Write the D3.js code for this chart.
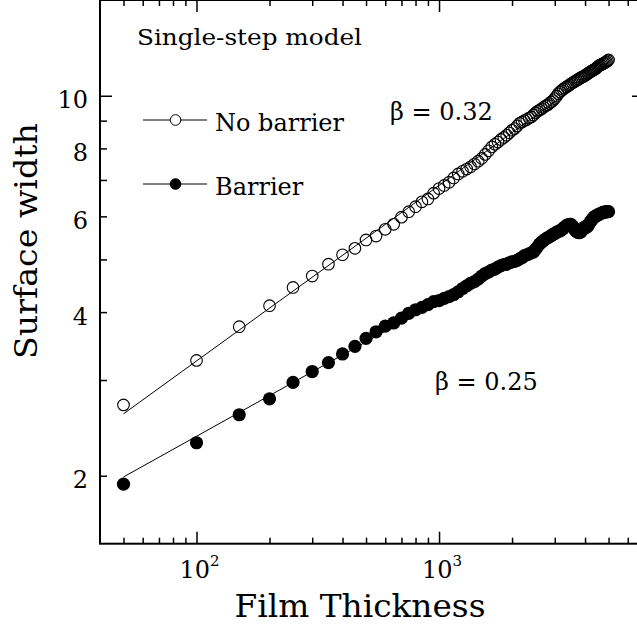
<!DOCTYPE html>
<html>
<head>
<meta charset="utf-8">
<script src="https://cdn.jsdelivr.net/npm/d3@7/dist/d3.min.js"></script>
<style>
body { margin: 0; background: #fff; }
text { font-family: "DejaVu Serif", serif; fill: #000; }
</style>
</head>
<body>
<script>
// film thickness (x) shared by both series
var thickness = [50,100,150,200,250,300,350,400,450,500,550,600,650,700,750,800,850,900,950,1000,
	1050,1100,1150,1200,1250,1300,1350,1400,1450,1500,1550,1600,1650,1700,1750,1800,1850,1900,1950,2000,
	2050,2100,2150,2200,2250,2300,2350,2400,2450,2500,2550,2600,2650,2700,2750,2800,2850,2900,2950,3000,
	3050,3100,3150,3200,3250,3300,3350,3400,3450,3500,3550,3600,3650,3700,3750,3800,3850,3900,3950,4000,
	4050,4100,4150,4200,4250,4300,4350,4400,4450,4500,4550,4600,4650,4700,4750,4800,4850,4900,4950,5000];

// surface width, no barrier (open circles)
var noBarrier = [2.70,3.26,3.76,4.11,4.44,4.66,4.90,5.10,5.24,5.43,5.52,5.68,5.80,5.98,6.12,6.25,6.38,6.46,6.62,6.75,
	6.84,6.93,7.06,7.18,7.26,7.33,7.40,7.49,7.58,7.67,7.80,7.92,8.05,8.14,8.22,8.31,8.38,8.46,8.55,8.64,
	8.70,8.80,8.90,8.95,9.00,9.04,9.10,9.14,9.22,9.30,9.36,9.41,9.46,9.52,9.58,9.62,9.68,9.74,9.80,9.88,
	9.98,10.08,10.16,10.22,10.28,10.33,10.38,10.42,10.47,10.52,10.56,10.60,10.64,10.68,10.72,10.76,10.80,10.83,10.86,10.90,
	10.94,10.98,11.02,11.06,11.10,11.13,11.16,11.20,11.24,11.29,11.34,11.38,11.40,11.43,11.46,11.49,11.52,11.55,11.60,11.64];

// surface width, barrier (filled circles)
var barrier = [1.93,2.30,2.59,2.77,2.97,3.11,3.23,3.35,3.46,3.58,3.68,3.77,3.82,3.90,3.98,4.04,4.08,4.13,4.18,4.20,
	4.24,4.27,4.31,4.36,4.42,4.47,4.52,4.55,4.60,4.66,4.71,4.74,4.78,4.80,4.84,4.87,4.89,4.90,4.93,4.95,
	4.96,4.98,5.01,5.04,5.08,5.10,5.12,5.14,5.16,5.22,5.28,5.34,5.38,5.42,5.45,5.48,5.50,5.53,5.56,5.58,
	5.61,5.63,5.64,5.67,5.70,5.74,5.77,5.79,5.80,5.80,5.76,5.70,5.65,5.62,5.60,5.60,5.62,5.66,5.70,5.72,
	5.73,5.75,5.80,5.86,5.90,5.94,5.98,6.00,6.01,6.03,6.05,6.06,6.08,6.09,6.10,6.11,6.11,6.12,6.12,6.12];

// power-law fit lines (end points)
var fitThickness = [50, 5000];
var noBarrierFit = [2.60, 11.5];
var barrierFit = [1.99, 6.25];

// ticks
var xMajor = [100, 1000];
var xMinor = [50,60,70,80,90,200,300,400,500,600,700,800,900,2000,3000,4000,5000,6000,7000];
var xLabels = [[10, 2], [10, 3]];
var yMajor = [10];
var yMinor = [2,3,4,5,6,7,8,9];
var yLabels = [2,4,6,8,10];

var W = 637, H = 625;
var pLeft = 100, pRight = 644, pTop = 0, pBottom = 543.7;

var svg = d3.select('body').append('svg').attr('width', W).attr('height', H);

var x = d3.scaleLog().domain([40, 7000]).range([pLeft, pRight]);
var y = d3.scaleLog().domain([1.5, 15]).range([pBottom, pTop]);

// axes: minor + major ticks on all four sides, pointing inwards
function ticks(axisFn, scale, vals, size, tr)  {
	svg.append('g').attr('transform', tr)
		.call(axisFn(scale).tickValues(vals).tickSize(size))
		.call(g => g.select('.domain').remove())
		.call(g => g.selectAll('.tick text').remove())
		.call(g => g.selectAll('line').attr('stroke', '#000').attr('stroke-width', 1.5))
}
ticks(d3.axisBottom, x, xMinor, -6, 'translate(0,'+pBottom+')')
ticks(d3.axisBottom, x, xMajor, -12, 'translate(0,'+pBottom+')')
ticks(d3.axisTop, x, xMinor, -6, 'translate(0,'+pTop+')')
ticks(d3.axisTop, x, xMajor, -12, 'translate(0,'+pTop+')')
ticks(d3.axisLeft, y, yMinor, -7, 'translate('+pLeft+',0)')
ticks(d3.axisLeft, y, yMajor, -12, 'translate('+pLeft+',0)')
ticks(d3.axisRight, y, yMinor, -7, 'translate('+pRight+',0)')
ticks(d3.axisRight, y, yMajor, -12, 'translate('+pRight+',0)')

svg.append('rect').attr('x', pLeft).attr('y', pTop).attr('width', pRight-pLeft).attr('height', pBottom-pTop)
	.attr('fill', 'none').attr('stroke', '#000').attr('stroke-width', 2)

// tick labels
svg.append('g').selectAll('text').data(yLabels).enter().append('text')
	.attr('x', pLeft-12).attr('y', d => y(d)+12.5).attr('text-anchor', 'end').attr('font-size', '24px')
	.text(d => d)

var xl = svg.append('g').selectAll('text').data(xLabels).enter().append('text')
	.attr('x', (d) => x(Math.pow(d[0], d[1]))+3).attr('y', 578).attr('text-anchor', 'middle').attr('font-size', '24px')
xl.append('tspan').text(d => d[0])
xl.append('tspan').attr('dy', -12).attr('font-size', '15px').text(d => d[1])

// axis titles
svg.append('text').text('Film Thickness').attr('x', 360).attr('y', 617)
	.attr('text-anchor', 'middle').attr('font-size', '31px')
	.attr('textLength', 251).attr('lengthAdjust', 'spacingAndGlyphs')
svg.append('text').text('Surface width')
	.attr('transform', 'translate(37,241) rotate(-90)').attr('text-anchor', 'middle').attr('font-size', '31px')
	.attr('textLength', 236).attr('lengthAdjust', 'spacingAndGlyphs')

// fit lines
var line = d3.line().x(d => x(d[0])).y(d => y(d[1]));
[noBarrierFit, barrierFit].forEach(function(fit)  {
	svg.append('path').datum(fitThickness.map((t, i) => [t, fit[i]]))
		.attr('d', line).attr('fill', 'none').attr('stroke', '#000').attr('stroke-width', 1)
})

// data points
svg.append('g').selectAll('circle').data(thickness).enter().append('circle')
	.attr('cx', d => x(d)).attr('cy', (d, i) => y(noBarrier[i])).attr('r', 5.8)
	.attr('fill', 'none').attr('stroke', '#000').attr('stroke-width', 1.1)
svg.append('g').selectAll('circle').data(thickness).enter().append('circle')
	.attr('cx', d => x(d)).attr('cy', (d, i) => y(barrier[i])).attr('r', 6.6)
	.attr('fill', '#000')

// legend + annotations
svg.append('text').text('Single-step model').attr('x', 137).attr('y', 45).attr('font-size', '23px')
	.attr('textLength', 225).attr('lengthAdjust', 'spacingAndGlyphs')
var legend = [['No barrier', 120, 'none'], ['Barrier', 184, '#000']];
legend.forEach(function(l)  {
	svg.append('line').attr('x1', 143).attr('x2', 207).attr('y1', l[1]).attr('y2', l[1])
		.attr('stroke', '#000').attr('stroke-width', 1)
	svg.append('circle').attr('cx', 175.5).attr('cy', l[1]).attr('r', 5.3)
		.attr('fill', l[2] == 'none' ? '#fff' : '#000').attr('stroke', '#000').attr('stroke-width', 1)
	svg.append('text').text(l[0]).attr('x', 215).attr('y', l[1]+11).attr('font-size', '24px')
})
svg.append('text').text('β = 0.32').attr('x', 390).attr('y', 120).attr('font-size', '24px')
svg.append('text').text('β = 0.25').attr('x', 435).attr('y', 390).attr('font-size', '24px')
</script>
</body>
</html>
